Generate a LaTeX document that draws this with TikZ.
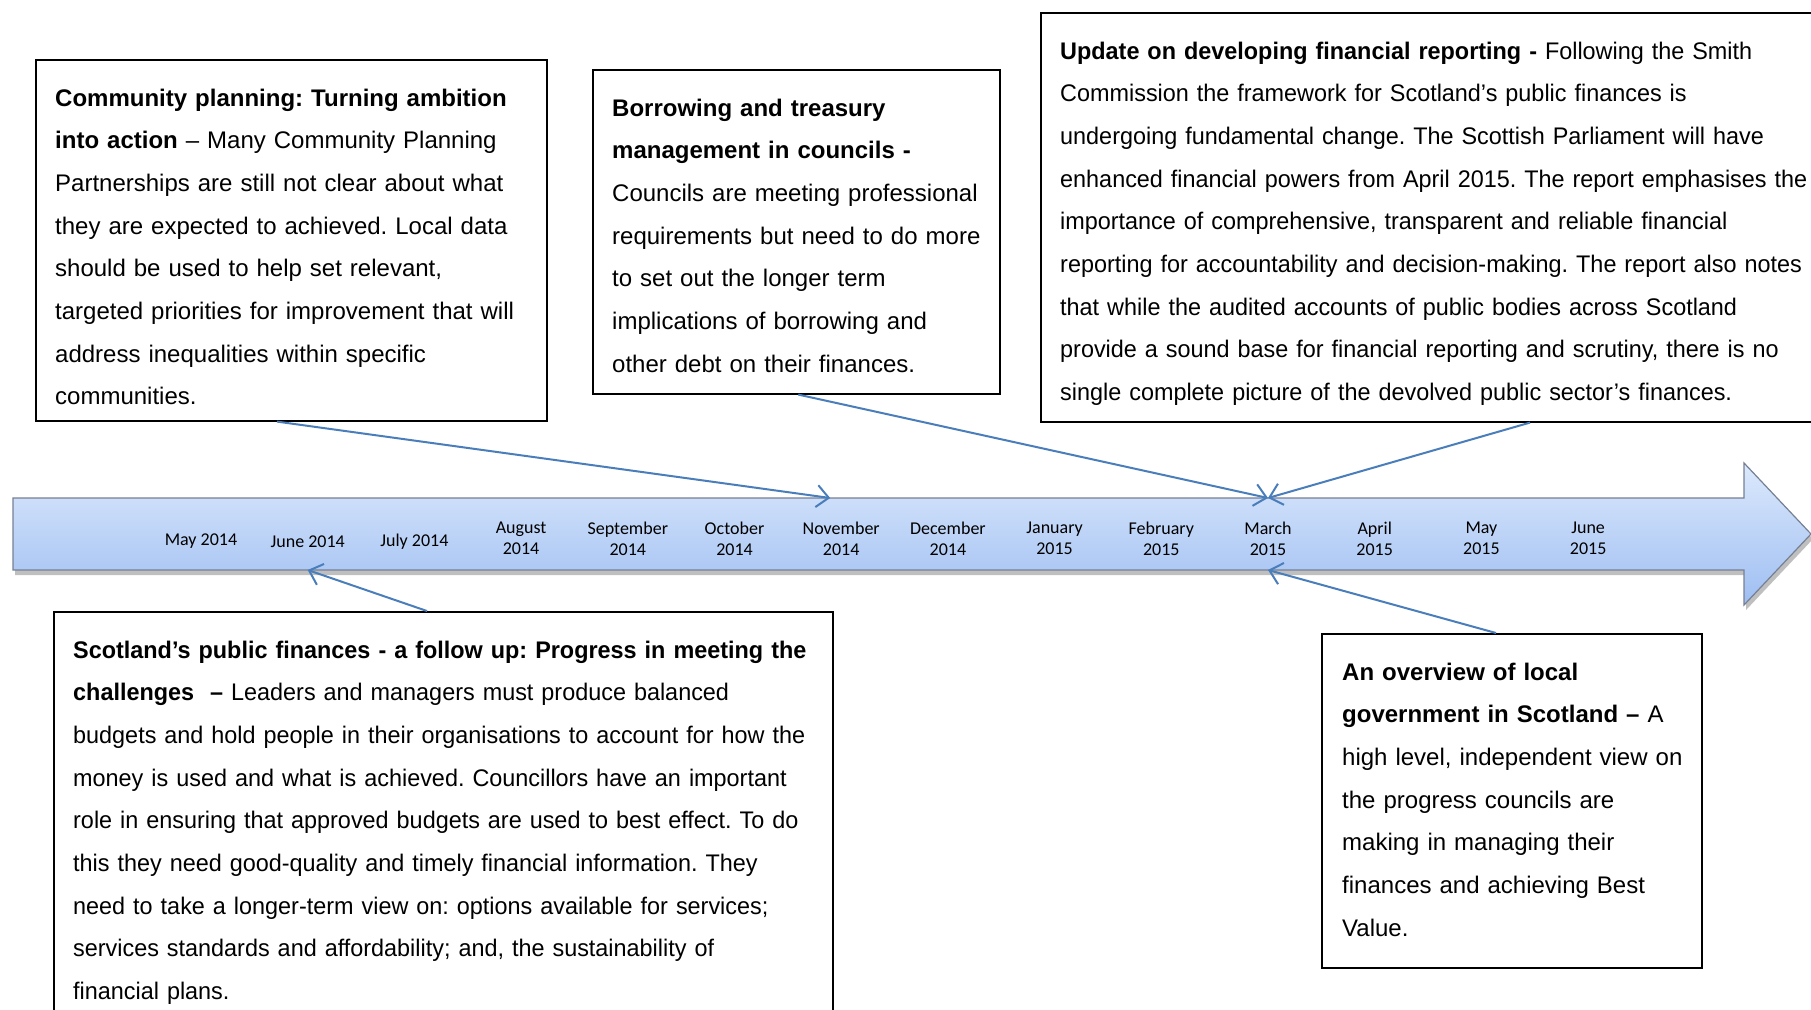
\documentclass[tikz,border=0pt]{standalone}
\usepackage{fontspec}
\setmainfont{Liberation Sans}
\newfontfamily\narrowfamily{Liberation Sans}[FakeStretch=0.975]
\newfontfamily\monthfamily{Carlito}
\usetikzlibrary{arrows.meta}
\frenchspacing

\definecolor{linkblue}{RGB}{74,126,187}
\definecolor{barhi}{RGB}{220,233,252}
\definecolor{barlo}{RGB}{158,190,242}
\definecolor{barline}{RGB}{118,128,148}

\tikzset{
  card/.style={draw, line width=1.6pt, inner sep=0pt, anchor=north west},
  cardtext/.style={anchor=base west, inner sep=0pt, align=left, text width=#1, font=\fontsize{24}{42.7}\selectfont},
  month/.style={align=center, inner sep=0pt, font=\monthfamily\fontsize{18}{21}\selectfont},
  link/.style={draw=linkblue, line width=2pt, -{Straight Barb[length=12pt,width=22pt]}},
}

\begin{document}
\begin{tikzpicture}[x=1pt, y=-1pt]
	\clip (0,0) rectangle (1811,1009);
	
	% 1. timeline bar with its shadow
	\fill[black, opacity=0.25, shift={(2,5)}] (13,498) -- (1744,498) -- (1744,463) -- (1811,534) -- (1744,605) -- (1744,570) -- (13,570) -- cycle;
	\draw[barline, line width=1.2pt, top color=barhi, bottom color=barlo] (13,498) -- (1744,498) -- (1744,463) -- (1811,534) -- (1744,605) -- (1744,570) -- (13,570) -- cycle;
	\coordinate (upper) at (0,498);
	\coordinate (lower) at (0,570);
	
	% 2. months
	\foreach \lab [count=\i] in {May 2014, June 2014, July 2014}
		\node[month] (m\i) at ({201+(\i-1)*106.7},541.5) {\lab};
	\foreach \lab [count=\i from 4] in {August\\2014, September\\2014, October\\2014, November\\2014, December\\2014, January\\2015, February\\2015, March\\2015, April\\2015, May\\2015, June\\2015}
		\node[month] (m\i) at ({201+(\i-1)*106.7},538.5) {\lab};
	
	% 3. report boxes
	\node[card, minimum width=511pt, minimum height=361pt] (cpbox) at (35,59) {};
	\node[cardtext=490pt] (cptext) at ([shift={(20,47)}]cpbox.north west) {\textbf{Community planning: Turning ambition}\\
		\textbf{into action} – Many Community Planning\\
		Partnerships are still not clear about what\\
		they are expected to achieved. Local data\\
		should be used to help set relevant,\\
		targeted priorities for improvement that will\\
		address inequalities within specific\\
		communities.};
	
	\node[card, minimum width=407pt, minimum height=324pt] (bwbox) at (592,69) {};
	\node[cardtext=390pt] (bwtext) at ([shift={(20,47)}]bwbox.north west) {\textbf{Borrowing and treasury}\\
		\textbf{management in councils -}\\
		Councils are meeting professional\\
		requirements but need to do more\\
		to set out the longer term\\
		implications of borrowing and\\
		other debt on their finances.};
	
	\node[card, minimum width=800pt, minimum height=409pt] (upbox) at (1040,12) {};
	\node[cardtext=800pt] (uptext) at ([shift={(20,47)}]upbox.north west) {\narrowfamily\textbf{Update on developing financial reporting -} Following the Smith\\
		Commission the framework for Scotland’s public finances is\\
		undergoing fundamental change. The Scottish Parliament will have\\
		enhanced financial powers from April 2015. The report emphasises the\\
		importance of comprehensive, transparent and reliable financial\\
		reporting for accountability and decision-making. The report also notes\\
		that while the audited accounts of public bodies across Scotland\\
		provide a sound base for financial reporting and scrutiny, there is no\\
		single complete picture of the devolved public sector’s finances.};
	
	\node[card, minimum width=779pt, minimum height=430pt] (pfbox) at (53,611) {};
	\node[cardtext=800pt] (pftext) at ([shift={(20,47)}]pfbox.north west) {\narrowfamily\textbf{Scotland’s public finances - a follow up: Progress in meeting the}\\
		\textbf{challenges \ –} Leaders and managers must produce balanced\\
		budgets and hold people in their organisations to account for how the\\
		money is used and what is achieved. Councillors have an important\\
		role in ensuring that approved budgets are used to best effect. To do\\
		this they need good-quality and timely financial information. They\\
		need to take a longer-term view on: options available for services;\\
		services standards and affordability; and, the sustainability of\\
		financial plans.};
	
	\node[card, minimum width=380pt, minimum height=334pt] (ovbox) at (1321,633) {};
	\node[cardtext=370pt] (ovtext) at ([shift={(21,47)}]ovbox.north west) {\textbf{An overview of local}\\
		\textbf{government in Scotland –} A\\
		high level, independent view on\\
		the progress councils are\\
		making in managing their\\
		finances and achieving Best\\
		Value.};
	
	% 4. pointers onto the timeline
	\draw[link] ([xshift=242pt]cpbox.south west) -- ([xshift=-11pt]m7 |- upper);
	\draw[link] ([xshift=2pt]bwbox.south) -- (m11 |- upper);
	\draw[link] ([xshift=490pt]upbox.south west) -- (m11 |- upper);
	\draw[link] ([xshift=374pt]pfbox.north west) -- (m2 |- lower);
	\draw[link] ([xshift=175pt]ovbox.north west) -- (m11 |- lower);
\end{tikzpicture}
\end{document}
